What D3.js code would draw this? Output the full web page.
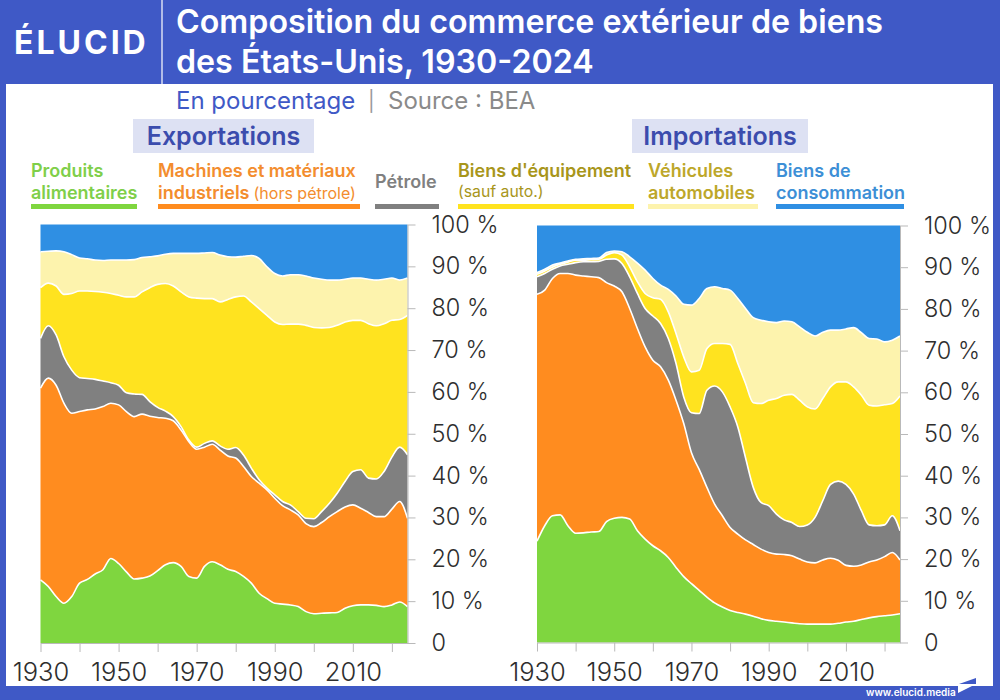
<!DOCTYPE html>
<html>
	<head>
		<meta charset="utf-8">
		<script src="https://cdn.jsdelivr.net/npm/d3@7"></script>
		<style>
			html, body { margin: 0; padding: 0; background: #3f59c6; }
			svg { display: block; font-family: Inter, sans-serif; }
		</style>
	</head>
	<body>
		<svg id="viz" width="1000" height="700"></svg>
		<script>
			var years = [1930,1932,1934,1936,1938,1940,1942,1944,1946,1948,1950,1952,1954,1956,1958,1960,1962,1964,1966,1968,1970,1972,1974,1976,1978,1980,1982,1984,1986,1988,1990,1992,1994,1996,1998,2000,2002,2004,2006,2008,2010,2012,2014,2016,2018,2020,2022,2024];

			// Shares in percent, one value per year above
			var exportsFood = [15.1,13.5,11.1,9.5,11.1,14.3,15.2,16.5,17.5,20.2,19,17,15.3,15.5,16,17.3,18.7,19.2,18.3,15.9,15.5,18.3,19.4,18.7,17.6,17.1,15.9,14.3,11.9,10.6,9.5,9.3,9.1,8.7,7.5,7,7.1,7.2,7.3,8.3,8.9,9.1,9.1,9,8.7,9.1,9.8,8.7];
			var exportsMaterials = [45.8,49.8,50.5,47.8,43.8,41,40.5,39.4,39,37.1,37.9,38.3,38.8,39.2,38.2,36.6,35,33.9,32.6,32.2,30.8,28.5,28.1,27.4,27.1,27.1,26.3,25.5,26.3,26,25.1,23.5,22.7,21.9,21,20.8,21.7,23,24.1,24.2,24.1,23.1,22.1,21.2,21.5,22.9,24,21.1];
			var exportsOil = [11.9,12.5,12,11.1,10.3,8.1,7.5,7.1,6.1,4.9,4.7,4.5,5.4,4.7,3.5,2.4,1.7,1,0.8,0.4,0.5,0.9,0.8,1,1.6,2.5,2.7,2,0.8,0.4,0.8,1,1.2,0.8,1.3,1.9,2.6,3.2,4.4,6.1,8,9.2,8.2,9,10.8,12.4,13,15.2];
			var exportsCapital = [12.1,10.2,11.7,14.9,18.3,20.7,20.9,21,21.2,21.3,21.5,22.9,23.2,24.5,27.2,29.4,30.5,31.2,32.2,34.2,35.6,34.6,34,34.4,35.8,36,38,39.7,40.9,41.3,41.3,42.3,43.2,44.8,46.1,45.7,43.9,42,40.1,38.1,36.1,35.7,36.9,36.6,35.3,32.7,30.5,33.3];
			var exportsVehicles = [8.6,7.6,8.4,10.2,9.3,7.9,7.7,7.5,7.6,8,8.4,8.8,8.9,8.2,7.4,6.8,7,7.8,9.2,10.4,10.7,10.9,11,11.2,10.2,9.5,9.5,11.1,12,11.6,11.6,11.6,11.8,11.8,11.8,11.8,11.6,11.3,10.8,10.2,10.1,10.1,10.6,10.9,10.6,10.1,9.4,8.9];
			var exportsConsumer = [6.5,6.4,6.3,6.5,7.2,8,8.2,8.5,8.6,8.5,8.5,8.5,8.4,7.9,7.7,7.5,7.1,6.9,6.9,6.9,6.9,6.8,6.7,7.3,7.7,7.8,7.6,7.4,8.1,10.1,11.7,12.3,12,12,12.3,12.8,13.1,13.3,13.3,13.1,12.8,12.8,13.1,13.3,13.1,12.8,13.3,12.8];

			var importsFood = [24.3,28,30.4,30.6,28,26.2,26.3,26.5,26.6,29,29.8,30,29.6,26.8,24.8,23.2,22,20.4,18,15.8,14.1,12.5,10.9,9.5,8.5,7.7,7.2,6.8,6.3,5.7,5.3,5.1,4.9,4.7,4.5,4.4,4.4,4.4,4.4,4.6,4.9,5.1,5.5,5.9,6.2,6.4,6.6,6.9];
			var importsMaterials = [59.2,56.5,56.9,57.9,60.5,61.9,61.6,61.2,60.9,57.3,55.7,54.1,50.5,48.5,46.1,44.5,44.1,42.5,40.1,36.7,31.4,29,26.3,23.7,21.9,19.9,18.8,17.8,17.2,16.7,16.3,16.1,16.2,16.1,15.5,14.9,14.7,15.4,15.8,15.1,13.6,13.2,13.1,13.4,13.6,14.2,15,12.9];
			var importsOil = [4.2,4,2.2,1.8,2.2,3,3.4,3.6,3.9,5.6,6.5,6.8,7.6,8.4,9.2,10.6,10.4,10,8.8,6.4,9.6,13.4,23.3,28.3,29.7,28.9,25.7,19.7,13.7,11.2,11.2,9.6,8.3,8,7.8,8.9,10.9,14.2,17.7,19,19.4,17.3,13,8.9,8.2,7.6,8.8,7];
			var importsCapital = [0.6,0.6,0.5,0.4,0.5,0.6,0.4,0.5,0.5,1,1.5,2,2.4,2.8,3.6,4.4,5.8,6.4,7.2,9.6,9.8,10.4,10,10.2,11.6,15,15.2,17.8,20.3,23.7,25.3,27.7,29.9,30.7,30.3,28.3,26,24.5,23.4,23.8,24.6,25.7,27.7,28.7,28.7,28.8,26.9,32.3];
			var importsVehicles = [0.4,0.4,0.5,0.3,0.3,0.2,0.3,0.3,0.3,0.6,0.4,0.8,2.4,4.5,5.6,4.6,3.4,5.4,9,12.6,16,17.2,14.4,13.6,13.2,13,15.6,18,20.4,20,18.8,18.2,17.8,17.4,17.6,17.9,17.5,15.9,13.6,12.4,12.7,14.2,15,16,16.1,15.1,15.2,14.4];
			var importsConsumer = [11.3,10.5,9.5,9,8.5,8.1,8,7.9,7.8,6.5,6.1,6.3,7.5,9,10.7,12.7,14.3,15.3,16.9,18.9,19.1,17.5,15.1,14.7,15.1,15.5,17.5,19.9,22.1,22.7,23.1,23.3,22.9,23.1,24.3,25.6,26.5,25.6,25.1,25.1,24.8,24.5,25.7,27.1,27.2,27.9,27.5,26.5];

			var categories = ["food", "materials", "oil", "capital", "vehicles", "consumer"];
			var colors = ["#7fd63f", "#ff8c1f", "#808080", "#ffe31f", "#fdf3ad", "#2f8fe3"];
			var xTicks = [1930,1940,1950,1960,1970,1980,1990,2000,2010,2020];
			var xLabels = [1930,1950,1970,1990,2010];
			var yTicks = [0,10,20,30,40,50,60,70,80,90,100];

			var blue = "#3f59c6";
			var svg = d3.select("#viz");

			// Frame
			svg.append("rect").attr("width", 1000).attr("height", 700).attr("fill", blue);
			svg.append("rect").attr("x", 6).attr("y", 84).attr("width", 987).attr("height", 602).attr("fill", "#fff");
			svg.append("line").attr("x1", 162).attr("x2", 162).attr("y1", 0).attr("y2", 84)
				.attr("stroke", "#fff").attr("stroke-width", 1.2);

			function label(txt, x, y, size, color, weight) {
				return svg.append("text").attr("x", x).attr("y", y)
					.attr("font-size", size).attr("fill", color)
					.attr("font-weight", weight || 400).text(txt);
			}

			label("ÉLUCID", 14, 54, 32, "#fff", 700).attr("letter-spacing", 3);
			label("Composition du commerce extérieur de biens", 176, 33, 32.2, "#fff", 600);
			label("des États-Unis, 1930-2024", 176, 73, 32.2, "#fff", 600);
			label("En pourcentage", 176, 109, 24, blue);
			label("|", 368, 108, 20, "#999");
			label("Source : BEA", 388, 109, 24, "#8a8a8a");

			// Panel titles
			function panelTitle(txt, x0, x1) {
				svg.append("rect").attr("x", x0).attr("y", 119).attr("width", x1 - x0).attr("height", 34).attr("fill", "#dde1f3");
				label(txt, (x0 + x1) / 2, 145, 25, "#3b4cad", 600).attr("text-anchor", "middle");
			}
			panelTitle("Exportations", 133, 314);
			panelTitle("Importations", 632, 808);

			// Legend
			function legendBar(x0, x1, color) {
				svg.append("rect").attr("x", x0).attr("y", 204).attr("width", x1 - x0).attr("height", 5).attr("fill", color);
			}
			legendBar(31, 137, colors[0]);
			label("Produits", 31, 177, 18, "#7fcf4a", 600);
			label("alimentaires", 31, 199, 18, "#7fcf4a", 600);

			legendBar(158, 360, colors[1]);
			label("Machines et matériaux", 158, 177, 18, "#f38d2e", 600);
			var ind = label("industriels", 158, 199, 18, "#f38d2e", 600);
			ind.append("tspan").attr("font-size", 16).attr("font-weight", 400).attr("dx", 4).text("(hors pétrole)");

			legendBar(375, 439, colors[2]);
			label("Pétrole", 375, 188, 18, "#808080", 600);

			legendBar(458, 634, colors[3]);
			label("Biens d'équipement", 458, 177, 18, "#a8961b", 600);
			label("(sauf auto.)", 458, 197, 15.8, "#a8961b");

			legendBar(648, 758, colors[4]);
			label("Véhicules", 648, 177, 18, "#bda72a", 600);
			label("automobiles", 648, 199, 18, "#bda72a", 600);

			legendBar(776, 904, colors[5]);
			label("Biens de", 776, 177, 18, "#3d8fd6", 600);
			label("consommation", 776, 199, 18, "#3d8fd6", 600);

			function drawPanel(series, xRange, yRange) {
				var rows = years.map(function(year, i) {
					var row = { year: year };
					categories.forEach(function(c, j) { row[c] = series[j][i]; });
					return row;
				});
				var layers = d3.stack().keys(categories)(rows);

				var x = d3.scaleLinear().domain([1930, 2024]).range(xRange);
				var y = d3.scaleLinear().domain([0, 100]).range(yRange);

				var area = d3.area()
					.x(function(d) { return x(d.data.year); })
					.y0(function(d) { return y(d[0]); })
					.y1(function(d) { return y(d[1]); })
					.curve(d3.curveMonotoneX);
				var top = d3.line()
					.x(function(d) { return x(d.data.year); })
					.y(function(d) { return y(d[1]); })
					.curve(d3.curveMonotoneX);

				var g = svg.append("g");
				g.selectAll("path.band").data(layers).enter().append("path")
					.attr("class", "band")
					.attr("d", area)
					.attr("fill", function(d, i) { return colors[i]; });

				// White edge on top of each band, except the last one at 100 %
				g.selectAll("path.edge").data(layers.slice(0, -1)).enter().append("path")
					.attr("class", "edge")
					.attr("d", top)
					.attr("fill", "none")
					.attr("stroke", "#fff")
					.attr("stroke-width", 1.6);

				var bottomAxis = d3.axisBottom(x)
					.tickValues(xTicks)
					.tickSize(9)
					.tickSizeOuter(0)
					.tickPadding(11)
					.tickFormat(function(d) { return xLabels.indexOf(d) >= 0 ? d : ""; });
				var rightAxis = d3.axisRight(y)
					.tickValues(yTicks)
					.tickSize(8)
					.tickSizeOuter(0)
					.tickPadding(16)
					.tickFormat(function(d) { return d === 0 ? "0" : d + " %"; });

				var bottomGroup = svg.append("g").attr("transform", "translate(0," + yRange[0] + ")").call(bottomAxis);
				var rightGroup = svg.append("g").attr("transform", "translate(" + xRange[1] + ",0)").call(rightAxis);
				[bottomGroup, rightGroup].forEach(function(a) {
					a.attr("font-family", "Inter, sans-serif");
					a.selectAll("path, line").attr("stroke", "#b9b9b9");
					a.selectAll("text").attr("fill", "#2e2e2e").attr("font-weight", 300);
				});
				bottomGroup.selectAll("text").attr("font-size", 25.5);
				rightGroup.selectAll("text").attr("font-size", 23.5);
			}

			drawPanel([exportsFood, exportsMaterials, exportsOil, exportsCapital, exportsVehicles, exportsConsumer], [40.5, 407.5], [643, 224.5]);
			drawPanel([importsFood, importsMaterials, importsOil, importsCapital, importsVehicles, importsConsumer], [537, 900], [642.5, 225.5]);

			// Footer
			label("www.elucid.media", 866, 696, 10, "#fff", 600);
			svg.append("path").attr("d", "M959,684 L976,678 L976,684 Z").attr("fill", blue);
			svg.append("path").attr("d", "M958,686 L972,686 L958,693 Z").attr("fill", "#fff");
		</script>
	</body>
</html>
